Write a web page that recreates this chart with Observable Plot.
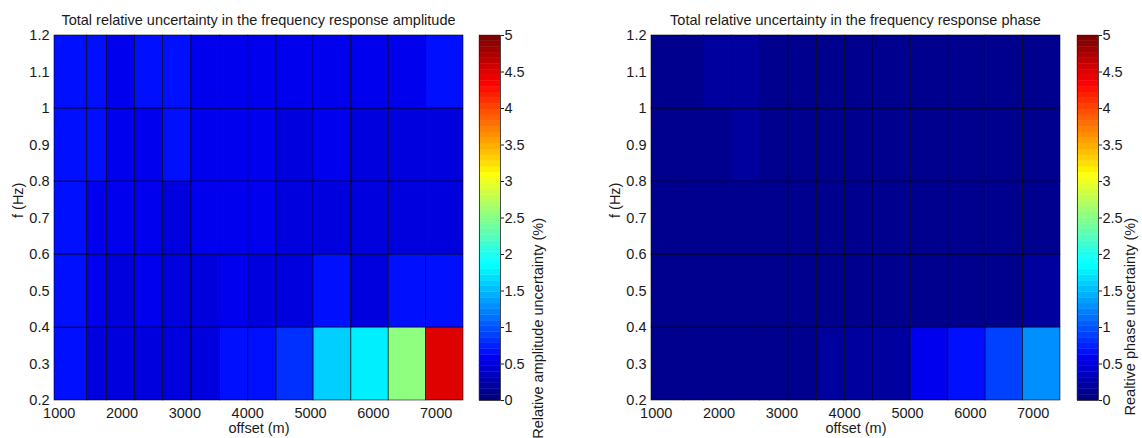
<!DOCTYPE html>
<html><head><meta charset="utf-8">
<script src="https://cdn.jsdelivr.net/npm/d3@7"></script>
<script src="https://cdn.jsdelivr.net/npm/@observablehq/plot@0.6"></script>
<style>
body{margin:0;background:#fff;}
#root{position:relative;width:1142px;height:438px;overflow:hidden;font-family:"Liberation Sans",Arial,sans-serif;color:#1a1a1a;background:#fff;}
#root > svg{position:absolute;top:0;}
.title{position:absolute;top:12px;font-size:14.5px;line-height:16px;white-space:nowrap;overflow:hidden;}
.title span{display:block;width:409px;text-align:center;}
</style></head><body><div id="root"></div><script>
// Cell edges along offset (m) and frequency (Hz)
const offsetEdges = [925, 1445, 1760, 2205, 2655, 3105, 3560, 4010, 4460, 5050, 5650, 6245, 6840, 7435];
const freqEdges = [0.2, 0.4, 0.6, 0.8, 1.0, 1.2];
// Tick labels
const offsetTicks = [1000, 2000, 3000, 4000, 5000, 6000, 7000];
const freqTicks = [0.2, 0.3, 0.4, 0.5, 0.6, 0.7, 0.8, 0.9, 1, 1.1, 1.2];
const colorTicks = [0, 0.5, 1, 1.5, 2, 2.5, 3, 3.5, 4, 4.5, 5];
// Relative amplitude uncertainty (%), rows from f 0.2-0.4 up to 1.0-1.2
const amplitudeRow1 = [0.66, 0.54, 0.54, 0.54, 0.54, 0.54, 0.68, 0.68, 0.82, 1.6, 1.78, 2.5, 4.48];
const amplitudeRow2 = [0.66, 0.58, 0.54, 0.58, 0.54, 0.54, 0.6, 0.54, 0.54, 0.66, 0.54, 0.68, 0.66];
const amplitudeRow3 = [0.66, 0.58, 0.58, 0.58, 0.54, 0.58, 0.6, 0.58, 0.54, 0.54, 0.54, 0.5, 0.48];
const amplitudeRow4 = [0.66, 0.68, 0.6, 0.6, 0.68, 0.6, 0.6, 0.58, 0.54, 0.58, 0.54, 0.54, 0.5];
const amplitudeRow5 = [0.66, 0.68, 0.6, 0.7, 0.68, 0.6, 0.6, 0.6, 0.58, 0.6, 0.58, 0.58, 0.68];
// Relative phase uncertainty (%)
const phaseRow1 = [0.14, 0.14, 0.14, 0.14, 0.14, 0.14, 0.2, 0.2, 0.2, 0.55, 0.65, 0.9, 1.27];
const phaseRow2 = [0.14, 0.14, 0.14, 0.14, 0.14, 0.14, 0.14, 0.14, 0.14, 0.14, 0.14, 0.14, 0.2];
const phaseRow3 = [0.14, 0.14, 0.14, 0.14, 0.14, 0.14, 0.14, 0.14, 0.14, 0.14, 0.14, 0.14, 0.14];
const phaseRow4 = [0.14, 0.14, 0.14, 0.2, 0.14, 0.14, 0.14, 0.14, 0.14, 0.14, 0.14, 0.14, 0.14];
const phaseRow5 = [0.14, 0.14, 0.2, 0.2, 0.14, 0.14, 0.14, 0.14, 0.14, 0.14, 0.14, 0.14, 0.14];

const amplitude = [amplitudeRow1, amplitudeRow2, amplitudeRow3, amplitudeRow4, amplitudeRow5];
const phase = [phaseRow1, phaseRow2, phaseRow3, phaseRow4, phaseRow5];

// MATLAB jet(64) colormap as an interpolator
function jet64(t) {
  const i = Math.max(0, Math.min(63, Math.floor(t * 64))) + 1;
  const u = k => (k < 1 || k > 47) ? 0 : k <= 16 ? k / 16 : k <= 31 ? 1 : (48 - k) / 16;
  const r = u(i - 24), g = u(i - 8), b = u(i + 7);
  return `rgb(${Math.round(r * 255)},${Math.round(g * 255)},${Math.round(b * 255)})`;
}
const colorScale = {type: "linear", domain: [0, 5], interpolate: jet64};
const fontStyle = {background: "transparent", fontSize: "14.5px", fontFamily: "'Liberation Sans', Arial, sans-serif", color: "#1a1a1a"};

const root = document.getElementById("root");

function heatmap(values, left) {
  const cells = [];
  values.forEach((row, j) => row.forEach((v, i) => cells.push({
    x1: offsetEdges[i], x2: offsetEdges[i + 1], y1: freqEdges[j], y2: freqEdges[j + 1], v
  })));
  const svg = Plot.plot({
    width: 480, height: 438, marginLeft: 54, marginRight: 17, marginTop: 35, marginBottom: 38,
    style: fontStyle,
    x: {domain: [offsetEdges[0], offsetEdges[offsetEdges.length - 1]], ticks: offsetTicks, tickSize: 0, tickPadding: 7, tickFormat: d => String(d), label: null},
    y: {domain: [freqEdges[0], freqEdges[freqEdges.length - 1]], ticks: freqTicks, tickSize: 0, tickPadding: 5, tickFormat: d => String(d), label: null},
    color: colorScale,
    marks: [
      Plot.rect(cells, {x1: "x1", x2: "x2", y1: "y1", y2: "y2", fill: "v", stroke: "#000", strokeWidth: 0.7, strokeOpacity: 0.8}),
      Plot.text(["offset (m)"], {frameAnchor: "bottom", dy: 32.5, text: d => d}),
      Plot.text(["f (Hz)"], {frameAnchor: "left", dx: -36.5, rotate: -90, text: d => d})
    ]
  });
  svg.style.left = left + "px";
  root.appendChild(svg);
}

function colorbar(left, width, marginRight, label, labelDx) {
  const bins = d3.range(64).map(i => ({y1: i * 5 / 64, y2: (i + 1) * 5 / 64, v: (i + 0.5) * 5 / 64}));
  const svg = Plot.plot({
    width, height: 438, marginLeft: 9, marginRight, marginTop: 35, marginBottom: 38,
    style: fontStyle,
    x: {domain: [0, 1], axis: null},
    y: {domain: [0, 5], ticks: colorTicks, axis: "right", tickSize: 3, tickPadding: 1, tickFormat: d => String(d), label: null},
    color: colorScale,
    marks: [
      Plot.rect(bins, {x1: 0, x2: 1, y1: "y1", y2: "y2", fill: "v", stroke: "v", strokeWidth: 0.4}),
      Plot.frame({stroke: "#222", strokeWidth: 0.8}),
      Plot.text([label], {frameAnchor: "right", dx: labelDx, rotate: -90, text: d => d})
    ]
  });
  svg.style.left = left + "px";
  root.appendChild(svg);
}

function title(text, left, clipWidth) {
  const div = document.createElement("div");
  div.className = "title";
  div.style.left = left + "px";
  div.style.width = clipWidth + "px";
  const span = document.createElement("span");
  span.textContent = text;
  div.appendChild(span);
  root.appendChild(div);
}

heatmap(amplitude, 0);
colorbar(470, 80, 50, "Relative amplitude uncertainty (%)", 38);
heatmap(phase, 597);
colorbar(1068, 74, 44, "Realtive phase uncertainty (%)", 32);
title("Total relative uncertainty in the frequency response amplitude", 54, 401);
title("Total relative uncertainty in the frequency response phase", 651, 409);
</script></body></html>
